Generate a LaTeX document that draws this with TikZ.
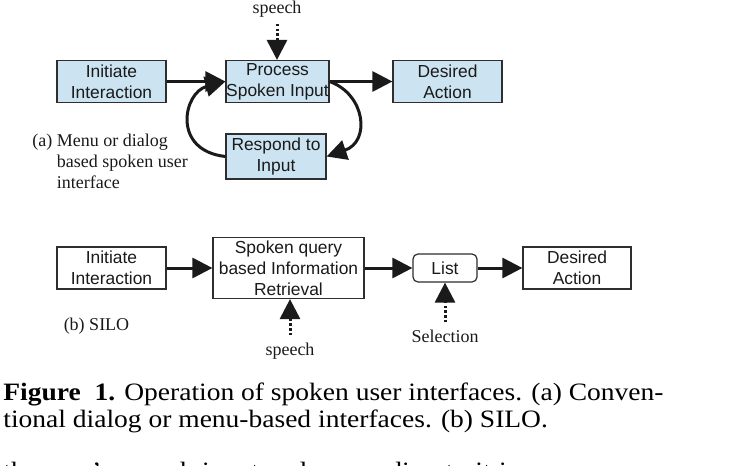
\documentclass[tikz,border=0pt]{standalone}
\usepackage{fontspec}
\setmainfont{Liberation Serif}
\setsansfont{Liberation Sans}
\usetikzlibrary{arrows.meta, positioning}
\definecolor{paleblue}{HTML}{CCE3F1}
\definecolor{edge}{HTML}{2E2E2E}
\definecolor{ink}{HTML}{1A1A1A}
\tikzset{
  every picture/.style={font=\sffamily, >={Triangle[length=10pt, width=10pt]}},
  stage/.style={draw=edge, fill=paleblue, line width=0.6pt, inner sep=0pt, text=ink,
              minimum width=54.5pt, minimum height=21pt, align=center,
              font=\sffamily\fontsize{8.7}{10.5}\selectfont},
  stageb/.style={stage, fill=white},
  listbox/.style={stageb, rounded corners=2.5pt, minimum width=32pt, minimum height=14pt},
  arr/.style={->, line width=1.5pt, ink},
  arrd/.style={arr, dash pattern=on 1.2pt off 1.2pt},
  lbl/.style={font=\rmfamily\fontsize{9}{10.5}\selectfont, anchor=base, text=ink},
  captext/.style={font=\rmfamily\fontsize{12.5}{13.5}\selectfont, inner sep=0pt, anchor=base west,
              xscale=1.1, transform shape, text=black},
}

\begin{document}
\begin{tikzpicture}[x=0.5pt, y=-0.5pt]
  \useasboundingbox (0,0) rectangle (729,466);
  \clip (0,0) rectangle (729,466);
  % (a) menu or dialog based
  \foreach \n/\t/\x/\w in {a1/{Initiate\\Interaction}/111.5/54.5, a2/{Process\\Spoken Input}/277.5/51.5, a3/{Desired\\Action}/447.5/54.5} {
    \node[stage, minimum width=\w pt] (\n) at (\x,81.5) {\t};
  }
  \node[stage, minimum width=50pt, minimum height=22.5pt] (a4) at (276,156.5) {Respond to\\Input};
  \foreach \a/\b in {a1/a2, a2/a3} \draw[arr] (\a) -- (\b);
  \draw[arr] (a2.east) .. controls +(36,13) and +(44,-15) .. (a4.east);
  \draw[arr] (a4.west) .. controls +(-54,-6) and +(-42,11) .. (a2.west);
  \node[lbl] (sa) at (277,13) {speech};
  \draw[arrd] (sa) -- (sa |- a2.north);
  \node[lbl, anchor=base west, inner sep=0pt] (la) at (32,146) {\begin{tabular}[t]{@{}l@{\ }l@{}}(a)&Menu or dialog\\&based spoken user\\&interface\end{tabular}};
  % (b) SILO
  \node[stageb] (b1) at (111.5,268) {Initiate\\Interaction};
  \node[stageb, minimum width=75.5pt, minimum height=30.5pt] (b2) at (288.5,268) {Spoken query\\based Information\\Retrieval};
  \node[listbox] (b3) at (445,268) {List};
  \node[stageb, minimum width=54pt] (b4) at (577,268) {Desired\\Action};
  \foreach \a/\b in {b1/b2, b2/b3, b3/b4} \draw[arr] (\a) -- (\b);
  \node[lbl] (sb) at (290,355) {speech};
  \draw[arrd] (sb) -- (sb |- b2.south);
  \node[lbl] (sel) at (445,342) {Selection};
  \draw[arrd] (sel) -- (b3);
  \node[lbl] (lb) at (96.5,330) {(b) SILO};
  % caption
  \node[captext] (c1) at (3,400) {\textbf{Figure\ \ 1.} Operation of spoken user interfaces. (a) Conven-};
  \node[captext] (c2) at (3,427) {tional dialog or menu-based interfaces. (b) SILO.};
  \node[captext] (c3) at (3,479) {\makebox[235pt][s]{the user's speech input and responding to it in}};
\end{tikzpicture}
\end{document}
